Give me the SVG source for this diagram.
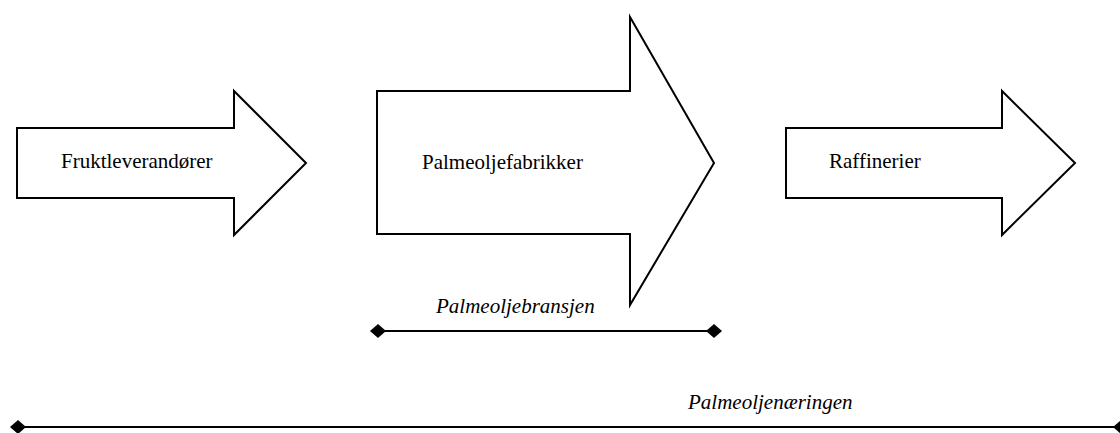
<svg xmlns="http://www.w3.org/2000/svg" width="1120" height="433" viewBox="0 0 1120 433">
<style>
.arrow{fill:#fff;stroke:#000;stroke-width:2;stroke-linejoin:miter}
.lbl{font-family:"Liberation Serif","Times New Roman",serif;font-size:21px;fill:#000}
.it{font-style:italic}
.span{stroke:#000;stroke-width:2;fill:none}
</style>
<defs>
<marker id="dia" viewBox="-8 -8 16 16" markerWidth="16" markerHeight="16" refX="0" refY="0" markerUnits="userSpaceOnUse" orient="auto">
<path d="M-8 0 L0 -7 L8 0 L0 7 Z" fill="#000"/>
</marker>
</defs>
<rect width="1120" height="433" fill="#fff"/>
<g id="fruktleverandorer">
<path class="arrow" d="M17 128 L234 128 L234 91 L306 163 L234 235 L234 198 L17 198 Z"/>
<text class="lbl" x="61" y="168">Fruktleverandører</text>
</g>
<g id="palmeoljefabrikker">
<path class="arrow" d="M377 91 L630 91 L630 17 L714 163 L630 305 L630 234 L377 234 Z"/>
<text class="lbl" x="422" y="169">Palmeoljefabrikker</text>
</g>
<g id="raffinerier">
<path class="arrow" d="M786 128 L1002 128 L1002 91 L1075 163 L1002 235 L1002 198 L786 198 Z"/>
<text class="lbl" x="829" y="168">Raffinerier</text>
</g>
<g id="connectors">
<line class="span" x1="378" y1="331" x2="714" y2="331" marker-start="url(#dia)" marker-end="url(#dia)"/>
<line class="span" x1="18" y1="427" x2="1121" y2="427" marker-start="url(#dia)" marker-end="url(#dia)"/>
</g>
<g id="palmeoljebransjen">
<text class="lbl it" x="436" y="313">Palmeoljebransjen</text>
</g>
<g id="palmeoljenaeringen">
<text class="lbl it" x="688" y="409">Palmeoljenæringen</text>
</g>
</svg>
